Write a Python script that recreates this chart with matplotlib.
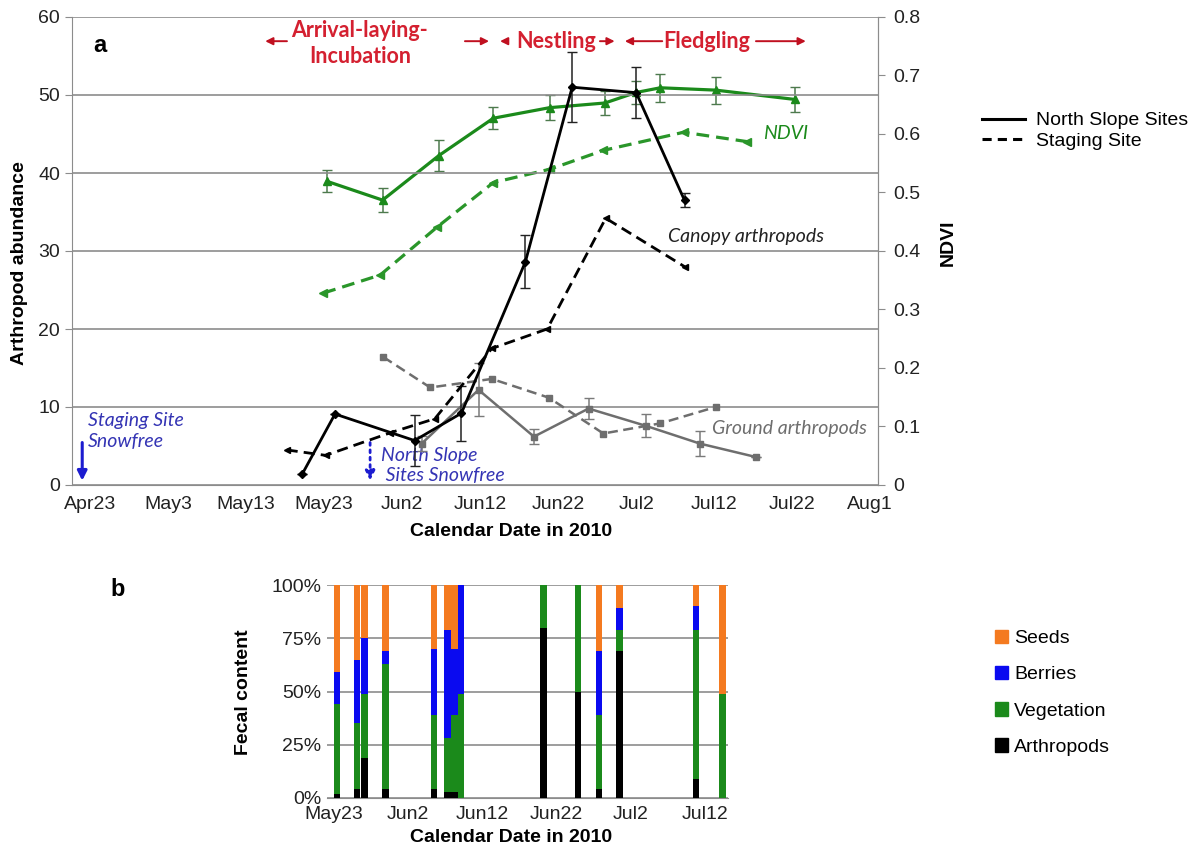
import matplotlib
matplotlib.use("Agg")
import matplotlib.pyplot as plt
from matplotlib.patches import Patch
from matplotlib.lines import Line2D

W, H = 1190, 849

# ---- panel a: x values are days after 23 Apr 2010 ----
date_ticks = [0, 10, 20, 30, 40, 50, 60, 70, 80, 90, 100]
date_labels = ["Apr23", "May3", "May13", "May23", "Jun2", "Jun12",
               "Jun22", "Jul2", "Jul12", "Jul22", "Aug1"]

# NDVI (right axis)
ndvi_ns_day = [30.4, 37.5, 44.7, 51.7, 58.9, 66.0, 70.0, 73.1, 80.2, 90.4]
ndvi_ns = [0.519, 0.487, 0.563, 0.627, 0.645, 0.653, 0.671, 0.679, 0.675, 0.659]
ndvi_ns_err = [0.019, 0.020, 0.027, 0.019, 0.021, 0.020, 0.020, 0.024, 0.023, 0.021]
ndvi_st_day = [29.9, 37.2, 44.5, 51.7, 59.0, 65.8, 76.1, 84.2]
ndvi_st = [0.328, 0.359, 0.441, 0.517, 0.540, 0.572, 0.603, 0.587]

# canopy arthropods
can_ns_day = [27.2, 31.4, 41.6, 47.6, 55.8, 61.8, 70.0, 76.2]
can_ns = [1.4, 9.1, 5.7, 9.2, 28.6, 51.0, 50.3, 36.5]
can_ns_err = [0, 0, 3.3, 3.5, 3.4, 4.5, 3.3, 0.9]
can_st_day = [25.2, 30.2, 38.5, 44.2, 51.5, 58.6, 66.1, 76.2]
can_st = [4.5, 3.8, 6.7, 8.5, 17.5, 20.0, 34.2, 28.0]

# ground arthropods
gr_ns_day = [42.5, 49.8, 56.9, 63.9, 71.2, 78.2, 85.3]
gr_ns = [5.3, 12.2, 6.2, 9.8, 7.6, 5.3, 3.6]
gr_ns_err = [1.0, 3.4, 1.0, 1.4, 1.5, 1.6, 0]
gr_st_day = [37.6, 43.6, 51.5, 58.8, 65.8, 73.1, 80.2]
gr_st = [16.4, 12.5, 13.6, 11.2, 6.6, 7.9, 10.0]

# ---- panel b: fecal content (fractions) ----
fec_day = [30.4, 33.1, 34.1, 36.9, 43.5, 45.3, 46.2, 47.1,
           58.2, 62.9, 65.7, 68.5, 78.8, 82.4]
fec_arth = [0.02, 0.04, 0.19, 0.04, 0.04, 0.03, 0.03, 0.00,
            0.80, 0.50, 0.04, 0.69, 0.09, 0.00]
fec_veg = [0.42, 0.31, 0.30, 0.59, 0.35, 0.25, 0.36, 0.49,
           0.20, 0.50, 0.35, 0.10, 0.70, 0.49]
fec_berry = [0.15, 0.30, 0.26, 0.06, 0.31, 0.51, 0.31, 0.51,
             0.00, 0.00, 0.30, 0.10, 0.11, 0.00]
fec_seed = [0.41, 0.35, 0.25, 0.31, 0.30, 0.21, 0.30, 0.00,
            0.00, 0.00, 0.31, 0.11, 0.10, 0.51]
fec_ticks = [30, 40, 50, 60, 70, 80]
fec_labels = ["May23", "Jun2", "Jun12", "Jun22", "Jul2", "Jul12"]

GREEN = "#1b8a1b"
GRAY = "#6e6e6e"
GRID = "#8c8c8c"
RED = "#d42030"
BLUE = "#1c1cd0"
ORANGE = "#f47a20"
BARBLUE = "#0a0af0"

plt.rcParams["font.family"] = ["Liberation Sans", "DejaVu Sans"]
ANNOT = ["Lato", "DejaVu Sans"]


def px_axes(fig, left, top, right, bottom):
    return fig.add_axes([left / W, 1 - bottom / H, (right - left) / W, (bottom - top) / H])


fig = plt.figure(figsize=(W / 100, H / 100), dpi=100)

# ================= panel a =================
ax = px_axes(fig, 72, 17, 878, 485)
ax.set_xlim(-2.31, 101.0)
ax.set_ylim(0, 60)
ax.set_yticks(range(0, 61, 10))
ax.set_xticks(date_ticks)
ax.set_xticklabels(date_labels)
ax.grid(axis="y", color=GRID, lw=1.2)
ax.set_axisbelow(True)
ax.spines["top"].set_visible(False)
for s in ("left", "bottom", "right"):
    ax.spines[s].set_color(GRID)
ax.tick_params(axis="y", length=5, color=GRID, labelsize=14, colors="#222222")
ax.tick_params(axis="x", length=0, labelsize=14, colors="#222222", pad=8)

ax2 = ax.twinx()
ax2.set_ylim(0, 0.8)
ax2.set_yticks([i / 10 for i in range(9)])
ax2.set_yticklabels(["0"] + [f"0.{i}" for i in range(1, 9)])
ax2.tick_params(axis="y", length=5, color=GRID, labelsize=14, colors="#222222", pad=6)
for s in ax2.spines.values():
    s.set_visible(False)
ax2.spines["right"].set_visible(True)
ax2.spines["right"].set_color(GRID)

dash = (4, 2.2)

# NDVI
ax2.errorbar(ndvi_ns_day, ndvi_ns, yerr=ndvi_ns_err, color=GREEN, lw=2.3,
             marker="^", ms=6, ecolor="#4d7a4d", elinewidth=1.1, capsize=3.5, zorder=3)
ax2.plot(ndvi_st_day, ndvi_st, color="#2a962a", lw=2.3, dashes=dash,
         marker="<", ms=6, zorder=3)

# ground arthropods
ax.errorbar(gr_ns_day, gr_ns, yerr=gr_ns_err, color=GRAY, lw=1.8, marker="s", ms=5,
            ecolor="#7a7a7a", elinewidth=1.1, capsize=3.5, zorder=4)
ax.plot(gr_st_day, gr_st, color=GRAY, lw=1.8, dashes=dash, marker="s", ms=5, zorder=4)

# canopy arthropods
ax.errorbar(can_ns_day, can_ns, yerr=can_ns_err, color="black", lw=2.0, marker="D", ms=4,
            ecolor="#222222", elinewidth=1.1, capsize=3.5, zorder=5)
ax.plot(can_st_day, can_st, color="black", lw=2.0, dashes=dash, marker="<", ms=5, zorder=5)

# primary axis above the twin so the arthropod lines sit over NDVI
ax.set_zorder(ax2.get_zorder() + 1)
ax.patch.set_visible(False)

# stage annotations
arrow_kw = dict(arrowstyle="-|>", color="#c01020", lw=1.4, mutation_scale=11)
for x0, x1 in [(25.6, 22.1), (47.7, 51.5), (53.6, 52.2), (65.0, 67.6),
               (73.7, 68.2), (85.0, 92.1)]:
    ax.annotate("", xy=(x1, 56.9), xytext=(x0, 56.9), arrowprops=arrow_kw,
                annotation_clip=False)
ax.text(34.6, 56.6, "Arrival-laying-\nIncubation", color=RED, fontsize=15.5,
        fontweight="bold", family=ANNOT, ha="center", va="center", linespacing=1.25)
ax.text(59.7, 56.9, "Nestling", color=RED, fontsize=15.5, fontweight="bold",
        family=ANNOT, ha="center", va="center")
ax.text(79.1, 56.9, "Fledgling", color=RED, fontsize=15.5, fontweight="bold",
        family=ANNOT, ha="center", va="center")

ax.text(86.3, 45.0, "NDVI", color=GREEN, fontsize=14, style="italic", family=ANNOT,
        va="center")
ax.text(74.1, 31.9, "Canopy arthropods", color="#222222", fontsize=14, style="italic",
        family=ANNOT, va="center")
ax.text(79.7, 7.3, "Ground arthropods", color=GRAY, fontsize=14, style="italic",
        family=ANNOT, va="center")

# snow-free markers
ax.annotate("", xy=(-1.0, 0.2), xytext=(-1.0, 5.8),
            arrowprops=dict(arrowstyle="-|>", color=BLUE, lw=2.2, mutation_scale=14),
            annotation_clip=False)
ax.text(-0.3, 6.9, "Staging Site\nSnowfree", color="#3434b4", fontsize=14,
        style="italic", family=ANNOT, va="center", linespacing=1.25)
ax.annotate("", xy=(35.9, 0.2), xytext=(35.9, 5.8),
            arrowprops=dict(arrowstyle="-|>", color=BLUE, lw=2.0, ls=":",
                            mutation_scale=14),
            annotation_clip=False)
ax.text(37.3, 2.5, "North Slope\n Sites Snowfree", color="#3434b4", fontsize=14,
        style="italic", family=ANNOT, va="center", linespacing=1.25, clip_on=False)

fig.text(100 / W, 1 - 45 / H, "a", fontsize=17, fontweight="bold", ha="center", va="center")
fig.text(20 / W, 1 - 263 / H, "Arthropod abundance", fontsize=14, fontweight="bold",
         rotation=90, ha="center", va="center")
fig.text(948 / W, 1 - 243 / H, "NDVI", fontsize=14, fontweight="bold",
         rotation=90, ha="center", va="center")
fig.text(511 / W, 1 - 531 / H, "Calendar Date in 2010", fontsize=14, fontweight="bold",
         ha="center", va="center")

handles = [Line2D([], [], color="black", lw=2.2),
           Line2D([], [], color="black", lw=2.2, dashes=(3, 2))]
fig.legend(handles, ["North Slope Sites", "Staging Site"], loc="upper left",
           bbox_to_anchor=(972 / W, 1 - 102 / H), frameon=False, fontsize=14,
           handlelength=2.2, handletextpad=0.6, labelspacing=0.15, borderpad=0)

# ================= panel b =================
bx = px_axes(fig, 327, 585, 728, 798)
bx.set_xlim(29.06, 83.1)
bx.set_ylim(0, 1)
bottom = [0.0] * len(fec_day)
for vals, col in [(fec_arth, "black"), (fec_veg, GREEN), (fec_berry, BARBLUE),
                  (fec_seed, ORANGE)]:
    bx.bar(fec_day, vals, bottom=bottom, width=0.9, color=col, linewidth=0, zorder=3)
    bottom = [b + v for b, v in zip(bottom, vals)]
bx.set_yticks([0, 0.25, 0.5, 0.75, 1.0])
bx.set_yticklabels(["0%", "25%", "50%", "75%", "100%"])
bx.set_xticks(fec_ticks)
bx.set_xticklabels(fec_labels)
bx.grid(axis="y", color=GRID, lw=1.2)
bx.set_axisbelow(True)
for s in ("top", "right", "left"):
    bx.spines[s].set_visible(False)
bx.spines["bottom"].set_color(GRID)
bx.tick_params(axis="y", length=0, labelsize=14, colors="#222222", pad=4)
bx.tick_params(axis="x", length=0, labelsize=14, colors="#222222", pad=6)

fig.text(118 / W, 1 - 590 / H, "b", fontsize=17, fontweight="bold", ha="center", va="center")
fig.text(243 / W, 1 - 692 / H, "Fecal content", fontsize=14, fontweight="bold",
         rotation=90, ha="center", va="center")
fig.text(511 / W, 1 - 837 / H, "Calendar Date in 2010", fontsize=14, fontweight="bold",
         ha="center", va="center")

fec_handles = [Patch(color=ORANGE), Patch(color=BARBLUE), Patch(color=GREEN),
               Patch(color="black")]
fig.legend(fec_handles, ["Seeds", "Berries", "Vegetation", "Arthropods"], loc="upper left",
           bbox_to_anchor=(985 / W, 1 - 620 / H), frameon=False, fontsize=14,
           handlelength=0.7, handleheight=0.7, handletextpad=0.3, labelspacing=0.95,
           borderpad=0)

fig.savefig("out.png", dpi=100)
